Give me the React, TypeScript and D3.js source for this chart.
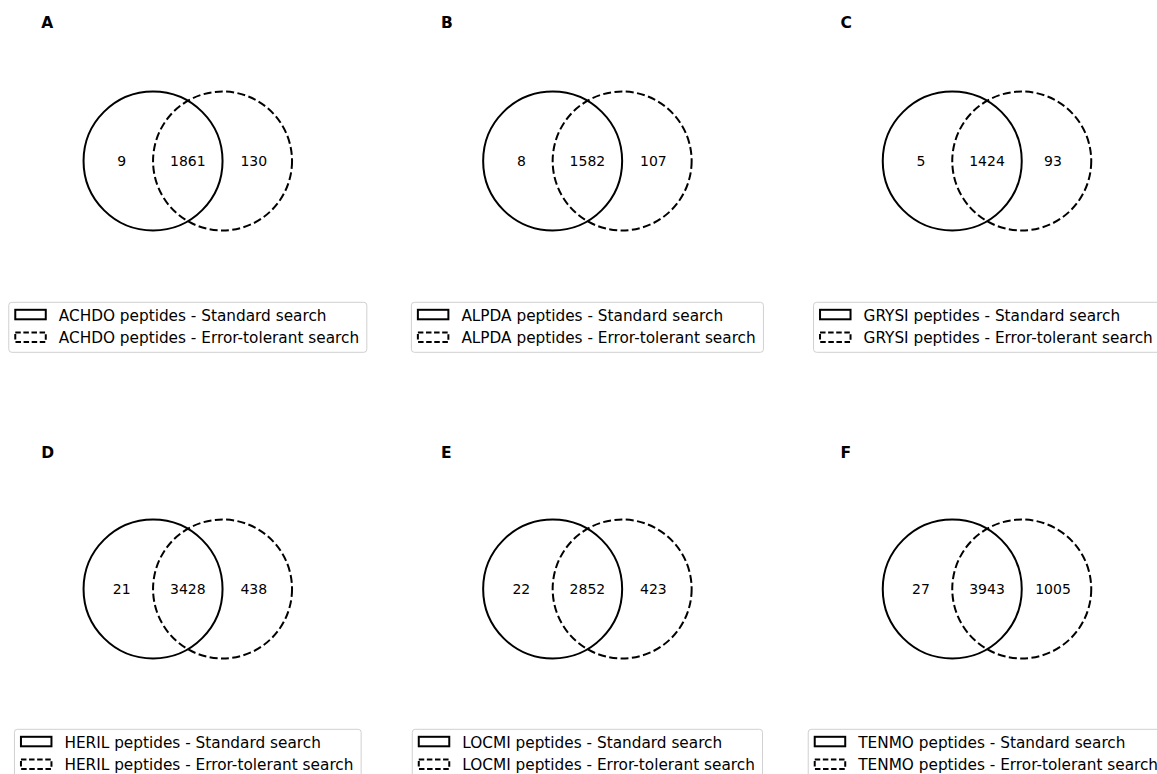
import React, { useEffect, useRef } from "react";
import * as d3 from "d3";

// Per-species peptide counts: only in standard search, shared, only in error-tolerant search
const panelLabels = ["A", "B", "C", "D", "E", "F"];
const species = ["ACHDO", "ALPDA", "GRYSI", "HERIL", "LOCMI", "TENMO"];
const standardOnly = [9, 8, 5, 21, 22, 27];
const shared = [1861, 1582, 1424, 3428, 2852, 3943];
const tolerantOnly = [130, 107, 93, 438, 423, 1005];
const setNames = ["Standard search", "Error-tolerant search"];

const W = 1157;
const H = 774;
const FONT = "'DejaVu Sans', Verdana, sans-serif";

export default function App() {
  const ref = useRef<SVGSVGElement | null>(null);

  useEffect(() => {
    const svg = d3.select(ref.current);
    svg.selectAll("*").remove();

    const colX = d3.scaleLinear().domain([0, 2]).range([187.8, 987]);
    const rowY = d3.scaleLinear().domain([0, 1]).range([161, 589]);
    const legendTop = d3.scaleLinear().domain([0, 1]).range([302.3, 729.3]);
    const labelY = d3.scaleLinear().domain([0, 1]).range([27.7, 457.5]);
    const dash = "8,3.4";

    species.forEach((sp, i) => {
      const col = i % 3;
      const row = Math.floor(i / 3);
      const cx = colX(col);
      const cy = rowY(row);
      // unweighted two-set diagram in unit coordinates
      const x = d3.scaleLinear().domain([-1, 1]).range([cx - 69.5, cx + 69.5]);
      const y = d3.scaleLinear().domain([-1, 1]).range([cy - 69.5, cy + 69.5]);
      const r = x(1) - x(0);
      const g = svg.append("g");

      g.append("text")
        .attr("x", cx - 146.5)
        .attr("y", labelY(row))
        .attr("font-family", FONT)
        .attr("font-weight", "bold")
        .attr("font-size", 15.5)
        .text(panelLabels[i]);

      g.append("circle")
        .attr("cx", x(-0.5))
        .attr("cy", y(0))
        .attr("r", r)
        .attr("fill", "none")
        .attr("stroke", "#000")
        .attr("stroke-width", 2);
      g.append("circle")
        .attr("cx", x(0.5))
        .attr("cy", y(0))
        .attr("r", r)
        .attr("fill", "none")
        .attr("stroke", "#000")
        .attr("stroke-width", 2)
        .attr("stroke-dasharray", dash);

      const counts = [standardOnly[i], shared[i], tolerantOnly[i]];
      const pos = [-0.95, 0, 0.95];
      counts.forEach((c, k) => {
        g.append("text")
          .attr("x", x(pos[k]))
          .attr("y", y(0))
          .attr("dy", "0.36em")
          .attr("text-anchor", "middle")
          .attr("font-family", FONT)
          .attr("font-size", 14)
          .text(String(c));
      });

      // legend below the diagram
      const lg = svg.append("g");
      const top = legendTop(row);
      const fs = 15.3;
      const texts = setNames.map((s) => `${sp} peptides - ${s}`);
      const tNodes: SVGTextElement[] = [];
      const box = lg
        .append("rect")
        .attr("y", top)
        .attr("height", 50)
        .attr("rx", 3)
        .attr("fill", "#fff")
        .attr("stroke", "#d0d0d0")
        .attr("stroke-width", 1);
      texts.forEach((t, k) => {
        const node = lg
          .append("text")
          .attr("y", top + 13 + k * 22.6)
          .attr("dy", "0.36em")
          .attr("font-family", FONT)
          .attr("font-size", fs)
          .text(t);
        tNodes.push(node.node() as SVGTextElement);
      });
      const tw = d3.max(tNodes, (n) => n.getComputedTextLength()) || 0;
      const bw = 50 + tw + 7.7;
      const left = cx - bw / 2;
      box.attr("x", left).attr("width", bw);
      tNodes.forEach((n) => d3.select(n).attr("x", left + 50));
      [0, 1].forEach((k) => {
        lg.append("rect")
          .attr("x", left + 6.5)
          .attr("y", top + 7.5 + k * 22.6)
          .attr("width", 30.5)
          .attr("height", 9.5)
          .attr("fill", "none")
          .attr("stroke", "#000")
          .attr("stroke-width", 2)
          .attr("stroke-dasharray", k === 1 ? "5.5,2.6" : null);
      });
    });
  }, []);

  return (
    <svg
      ref={ref}
      width={W}
      height={H}
      viewBox={`0 0 ${W} ${H}`}
      style={{ position: "absolute", left: 0, top: 0, background: "#fff" }}
    />
  );
}
